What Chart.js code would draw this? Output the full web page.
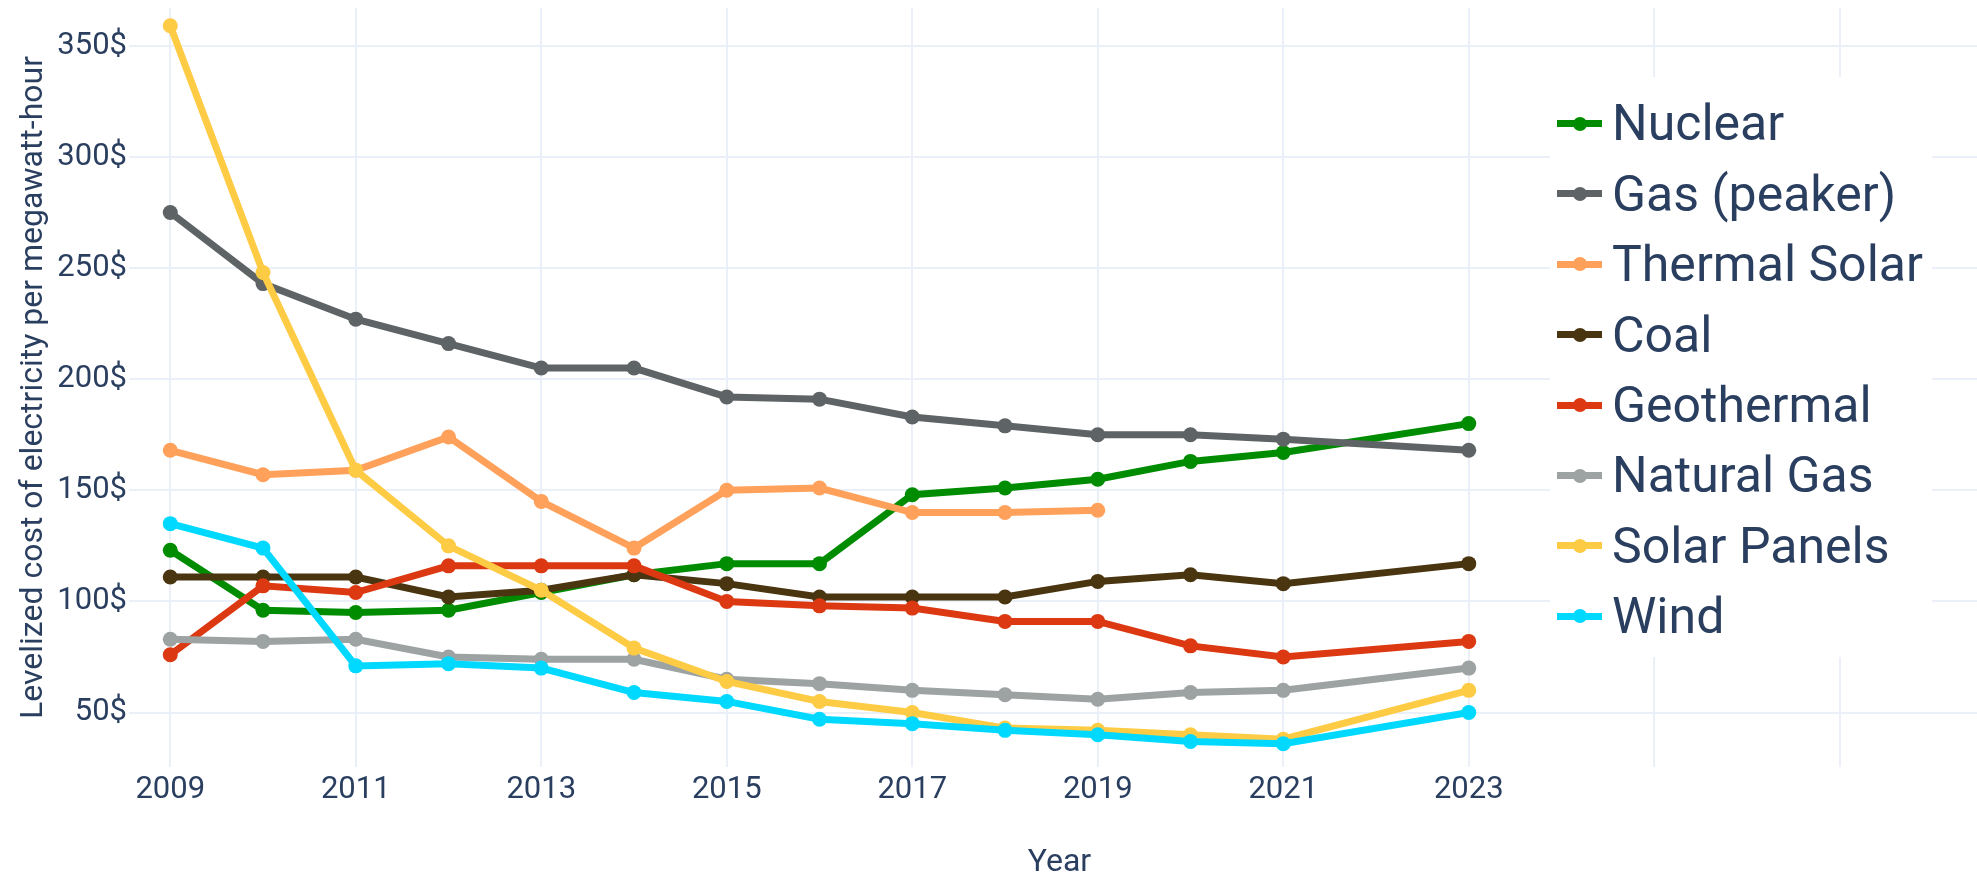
<!DOCTYPE html>
<html>
<head>
<meta charset="utf-8">
<script src="https://cdn.jsdelivr.net/npm/chart.js@4.4.1/dist/chart.umd.min.js"></script>
<style>
  html, body { margin: 0; padding: 0; background: #ffffff; overflow: hidden; width: 1977px; height: 879px; }
  #wrap { position: relative; width: 2000px; height: 879px; }
  #c { position: absolute; left: 0; top: 0; }
  #legend { position: absolute; left: 1550px; top: 77px; width: 382px; height: 580px; background: #ffffff;
            box-sizing: border-box; padding-top: 11.4px; font-family: Roboto, sans-serif; color: #2a3f5f; }
  .row { position: relative; height: 70.4px; line-height: 70.4px; font-size: 50px; white-space: nowrap; }
  .sym { position: absolute; left: 7px; top: 31.7px; width: 45px; height: 7px; }
  .dot { position: absolute; left: 15.5px; top: -3.5px; width: 14px; height: 14px; border-radius: 50%; }
  .lbl { position: absolute; left: 62px; top: 0; }
</style>
</head>
<body>
<div id="wrap">
  <canvas id="c" width="2000" height="879"></canvas>
  <div id="legend"></div>
</div>
<script>
// ---- data ----
const years = [2009, 2010, 2011, 2012, 2013, 2014, 2015, 2016, 2017, 2018, 2019, 2020, 2021, 2023];
const seriesNames = ['Nuclear', 'Gas (peaker)', 'Thermal Solar', 'Coal', 'Geothermal', 'Natural Gas', 'Solar Panels', 'Wind'];
const nuclear      = [123, 96, 95, 96, 104, 112, 117, 117, 148, 151, 155, 163, 167, 180];
const gasPeaker    = [275, 243, 227, 216, 205, 205, 192, 191, 183, 179, 175, 175, 173, 168];
const thermalSolar = [168, 157, 159, 174, 145, 124, 150, 151, 140, 140, 141, null, null, null];
const coal         = [111, 111, 111, 102, 105, 112, 108, 102, 102, 102, 109, 112, 108, 117];
const geothermal   = [76, 107, 104, 116, 116, 116, 100, 98, 97, 91, 91, 80, 75, 82];
const naturalGas   = [83, 82, 83, 75, 74, 74, 65, 63, 60, 58, 56, 59, 60, 70];
const solarPanels  = [359, 248, 159, 125, 105, 79, 64, 55, 50, 43, 42, 40, 38, 60];
const wind         = [135, 124, 71, 72, 70, 59, 55, 47, 45, 42, 40, 37, 36, 50];
const xTickValues  = [2009, 2011, 2013, 2015, 2017, 2019, 2021, 2023, 2025, 2027];
const xTickLabelMax = 2023;
const yTickValues  = [50, 100, 150, 200, 250, 300, 350];

const seriesValues = [nuclear, gasPeaker, thermalSolar, coal, geothermal, naturalGas, solarPanels, wind];
const seriesColors = ['#008C00', '#5E6365', '#FFA15A', '#4A3511', '#DC3912', '#9DA2A2', '#FECB45', '#00D9FF'];

const TEXT = '#2a3f5f';
const GRID = '#EBF0F8';

const datasets = seriesNames.map((name, i) => ({
  label: name,
  data: years.map((yr, j) => ({ x: yr, y: seriesValues[i][j] })).filter(p => p.y !== null),
  borderColor: seriesColors[i],
  backgroundColor: seriesColors[i],
  borderWidth: 7,
  pointRadius: 7.5,
  pointBorderWidth: 0,
  pointBackgroundColor: seriesColors[i],
  tension: 0,
  fill: false,
  order: seriesNames.length - i
}));

new Chart(document.getElementById('c'), {
  type: 'line',
  data: { datasets },
  options: {
    responsive: false,
    animation: false,
    layout: { padding: { top: 8, left: 0, right: 10, bottom: 0 } },
    plugins: { legend: { display: false }, tooltip: { enabled: false } },
    scales: {
      x: {
        type: 'linear',
        min: 2008.555,
        max: 2028.62,
        afterBuildTicks: s => { s.ticks = xTickValues.map(v => ({ value: v })); },
        afterFit: s => { s.height = 112; s.paddingLeft = 0; s.paddingRight = 0; },
        grid: { color: GRID, lineWidth: 2, drawTicks: false },
        border: { display: false },
        ticks: {
          color: TEXT, padding: 5, maxRotation: 0, autoSkip: false,
          font: { family: 'Roboto', size: 31, lineHeight: 1.2 },
          callback: v => (v <= xTickLabelMax ? String(v) : '')
        },
        title: {
          display: true, text: 'Year', color: TEXT,
          font: { family: 'Roboto', size: 32, lineHeight: 1 },
          padding: { top: 0, bottom: 0 }
        }
      },
      y: {
        min: 25.5,
        max: 367,
        afterBuildTicks: s => { s.ticks = yTickValues.map(v => ({ value: v })); },
        afterFit: s => { s.width = 129; s.paddingTop = 0; s.paddingBottom = 0; },
        grid: { color: GRID, lineWidth: 2, drawTicks: false },
        border: { display: false },
        ticks: {
          color: TEXT, padding: 2,
          font: { family: 'Roboto', size: 31 },
          callback: v => v + '$'
        },
        title: {
          display: true, text: 'Levelized cost of electricity per megawatt-hour', color: TEXT,
          font: { family: 'Roboto', size: 32, lineHeight: 1 },
          padding: { top: 18, bottom: 0 }
        }
      }
    }
  }
});

// ---- legend (HTML text) ----
const legend = document.getElementById('legend');
seriesNames.forEach((name, i) => {
  const row = document.createElement('div');
  row.className = 'row';
  const sym = document.createElement('div');
  sym.className = 'sym';
  sym.style.background = seriesColors[i];
  const dot = document.createElement('div');
  dot.className = 'dot';
  dot.style.background = seriesColors[i];
  sym.appendChild(dot);
  const lbl = document.createElement('span');
  lbl.className = 'lbl';
  lbl.textContent = name;
  row.appendChild(sym);
  row.appendChild(lbl);
  legend.appendChild(row);
});
</script>
</body>
</html>
